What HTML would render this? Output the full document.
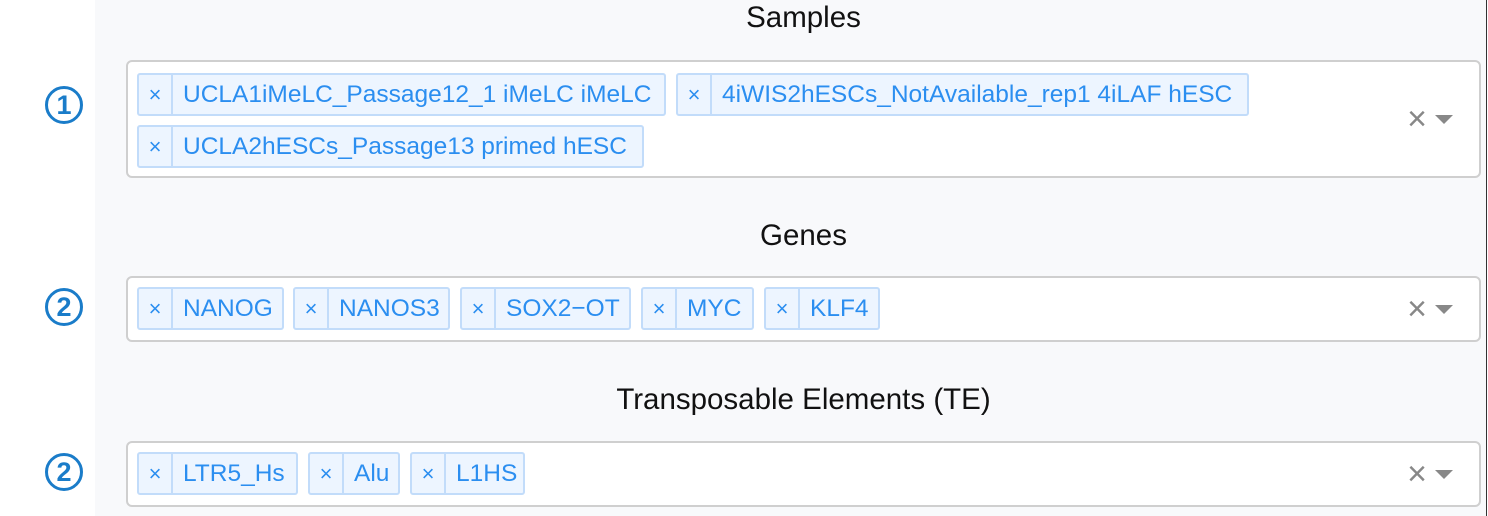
<!DOCTYPE html>
<html><head><meta charset="utf-8"><style>
*{box-sizing:border-box;margin:0;padding:0}
body{width:1488px;height:516px;overflow:hidden;background:#fff;font-family:"Liberation Sans",sans-serif;position:relative}
#panel{position:absolute;left:95px;top:0;width:1392px;height:516px;background:#f8f9fb;border-right:1px solid #333}
.title{position:absolute;left:95px;width:1417px;text-align:center;font-size:29.5px;color:#111}
.num{position:absolute;left:45px;width:38px;height:38px;border:3px solid #1a7cc9;border-radius:50%;color:#1a7cc9;font-size:27px;font-weight:bold;text-align:center;line-height:32px}
.box{position:absolute;left:126px;width:1355px;background:#fff;border:2px solid #cfcfcf;border-radius:6px}
.chip{position:absolute;height:43px;background:#edf5ff;border:2px solid #c2dcfa;border-radius:3px;display:flex;align-items:center;color:#2b8ef0;font-size:24.5px;white-space:nowrap}
.chip .x{width:34px;height:100%;border-right:2px solid #c2dcfa;display:flex;align-items:center;justify-content:center;font-size:22px}
.chip .t{padding-left:10px}
.clear{position:absolute;right:52px;color:#888;font-size:34px}
.caret{position:absolute;right:26px;width:0;height:0;border-left:9px solid transparent;border-right:9px solid transparent;border-top:9px solid #888}
</style></head><body>
<div id="panel"></div>

<div class="title" style="top:1px">Samples</div>
<div class="num" style="top:86px">1</div>
<div class="box" style="top:60px;height:118px">
  <div class="chip" style="left:9px;top:11px;width:529px"><span class="x">×</span><span class="t">UCLA1iMeLC_Passage12_1 iMeLC iMeLC</span></div>
  <div class="chip" style="left:548px;top:11px;width:573px"><span class="x">×</span><span class="t">4iWIS2hESCs_NotAvailable_rep1 4iLAF hESC</span></div>
  <div class="chip" style="left:9px;top:63px;width:507px"><span class="x">×</span><span class="t">UCLA2hESCs_Passage13 primed hESC</span></div>
  <div class="clear" style="top:38px">×</div>
  <div class="caret" style="top:53px"></div>
</div>

<div class="title" style="top:219px">Genes</div>
<div class="num" style="top:288px">2</div>
<div class="box" style="top:276px;height:66px">
  <div class="chip" style="left:9px;top:9px;width:147px"><span class="x">×</span><span class="t">NANOG</span></div>
  <div class="chip" style="left:165px;top:9px;width:157px"><span class="x">×</span><span class="t">NANOS3</span></div>
  <div class="chip" style="left:332px;top:9px;width:171px"><span class="x">×</span><span class="t">SOX2−OT</span></div>
  <div class="chip" style="left:513px;top:9px;width:113px"><span class="x">×</span><span class="t">MYC</span></div>
  <div class="chip" style="left:636px;top:9px;width:116px"><span class="x">×</span><span class="t">KLF4</span></div>
  <div class="clear" style="top:12px">×</div>
  <div class="caret" style="top:27px"></div>
</div>

<div class="title" style="top:383px">Transposable Elements (TE)</div>
<div class="num" style="top:453px">2</div>
<div class="box" style="top:441px;height:66px">
  <div class="chip" style="left:9px;top:9px;width:161px"><span class="x">×</span><span class="t">LTR5_Hs</span></div>
  <div class="chip" style="left:180px;top:9px;width:92px"><span class="x">×</span><span class="t">Alu</span></div>
  <div class="chip" style="left:282px;top:9px;width:115px"><span class="x">×</span><span class="t">L1HS</span></div>
  <div class="clear" style="top:12px">×</div>
  <div class="caret" style="top:27px"></div>
</div>
</body></html>
